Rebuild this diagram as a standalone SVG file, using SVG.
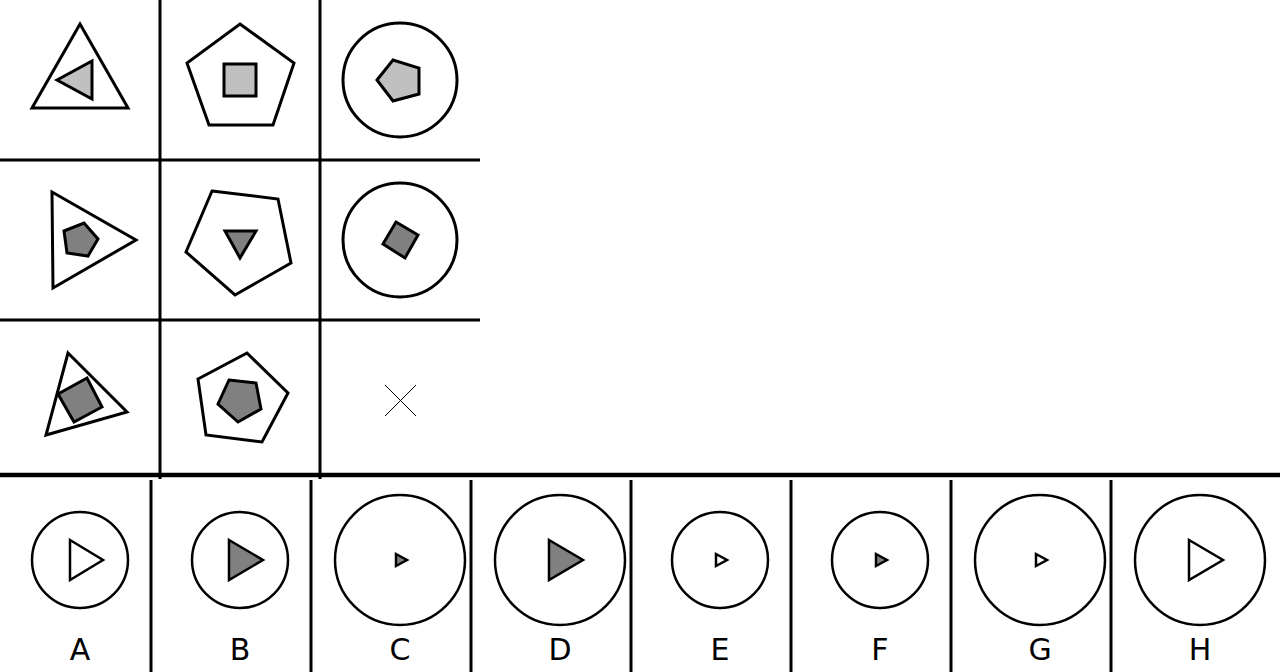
<svg xmlns="http://www.w3.org/2000/svg" width="1280" height="672" viewBox="0 0 1280 672">
<style>
.o{fill:#fff;stroke:#000;stroke-width:3;stroke-linejoin:miter}
.l{fill:#c0c0c0;stroke:#000;stroke-width:3}
.d{fill:#808080;stroke:#000;stroke-width:3}
.oc{fill:#fff;stroke:#000;stroke-width:2.5}
.ow{fill:#fff;stroke:#000;stroke-width:2.5}
.og{fill:#808080;stroke:#000;stroke-width:2.5}
.grid{stroke:#000;fill:none}
.lab{font-family:"DejaVu Sans",sans-serif;font-size:30px;text-anchor:middle;fill:#000}
</style>
<rect width="1280" height="672" fill="#fff"/>
<g id="grid-lines" class="grid">
<line x1="160" y1="0" x2="160" y2="479" stroke-width="3"/>
<line x1="320" y1="0" x2="320" y2="479" stroke-width="3"/>
<line x1="0" y1="160" x2="480" y2="160" stroke-width="3"/>
<line x1="0" y1="320" x2="480" y2="320" stroke-width="3"/>
<line x1="0" y1="475" x2="1280" y2="475" stroke-width="4.5"/>
<line x1="151" y1="480" x2="151" y2="672" stroke-width="3"/>
<line x1="311" y1="480" x2="311" y2="672" stroke-width="3"/>
<line x1="471" y1="480" x2="471" y2="672" stroke-width="3"/>
<line x1="631" y1="480" x2="631" y2="672" stroke-width="3"/>
<line x1="791" y1="480" x2="791" y2="672" stroke-width="3"/>
<line x1="951" y1="480" x2="951" y2="672" stroke-width="3"/>
<line x1="1111" y1="480" x2="1111" y2="672" stroke-width="3"/>
</g>
<g id="cell-1-1">
<polygon class="o" points="80,24 128,108 32,108"/>
<polygon class="l" points="57,80 92,61 92,99"/>
</g>
<g id="cell-1-2">
<polygon class="o" points="240,24 294,63 273,125 209,125 187,63"/>
<rect class="l" x="224" y="64" width="32" height="32"/>
</g>
<g id="cell-1-3">
<circle class="o" cx="400" cy="80" r="57"/>
<polygon class="l" points="377,80 393,60 419,68 419,94 393,101"/>
</g>
<g id="cell-2-1">
<polygon class="o" points="52,192 136,240 53,288"/>
<polygon class="d" points="64,231 84,223 98,239 88,256 67,253"/>
</g>
<g id="cell-2-2">
<polygon class="o" points="212,191 278,199 291,263 235,295 186,252"/>
<polygon class="d" points="225,231 256,231 240,258"/>
</g>
<g id="cell-2-3">
<circle class="o" cx="400" cy="240" r="57"/>
<polygon class="d" points="383,244 396,222 418,235 405,258"/>
</g>
<g id="cell-3-1">
<polygon class="o" points="68,353 127,412 46,435"/>
<polygon class="d" points="58,394 87,378 102,407 74,422"/>
</g>
<g id="cell-3-2">
<polygon class="o" points="247,353 288,393 262,442 206,435 198,379"/>
<polygon class="d" points="229,380 256,383 261,409 238,422 218,404"/>
</g>
<g id="cell-3-3">
<line x1="385" y1="385" x2="416" y2="416" stroke="#000" stroke-width="1"/>
<line x1="416" y1="385" x2="385" y2="416" stroke="#000" stroke-width="1"/>
</g>
<g id="option-A">
<circle class="oc" cx="80" cy="560" r="48"/>
<polygon class="ow" points="70,540 103,560 70,580"/>
<text class="lab" x="80" y="660">A</text>
</g>
<g id="option-B">
<circle class="oc" cx="240" cy="560" r="48"/>
<polygon class="og" points="229,540 263,560 229,580"/>
<text class="lab" x="240" y="660">B</text>
</g>
<g id="option-C">
<circle class="oc" cx="400" cy="560" r="65"/>
<polygon class="og" points="396,554 407,560 396,566"/>
<text class="lab" x="400" y="660">C</text>
</g>
<g id="option-D">
<circle class="oc" cx="560" cy="560" r="65"/>
<polygon class="og" points="549,540 583,560 549,580"/>
<text class="lab" x="560" y="660">D</text>
</g>
<g id="option-E">
<circle class="oc" cx="720" cy="560" r="48"/>
<polygon class="ow" points="716,554 727,560 716,566"/>
<text class="lab" x="720" y="660">E</text>
</g>
<g id="option-F">
<circle class="oc" cx="880" cy="560" r="48"/>
<polygon class="og" points="876,554 887,560 876,566"/>
<text class="lab" x="880" y="660">F</text>
</g>
<g id="option-G">
<circle class="oc" cx="1040" cy="560" r="65"/>
<polygon class="ow" points="1036,554 1047,560 1036,566"/>
<text class="lab" x="1040" y="660">G</text>
</g>
<g id="option-H">
<circle class="oc" cx="1200" cy="560" r="65"/>
<polygon class="ow" points="1189,540 1223,560 1189,580"/>
<text class="lab" x="1200" y="660">H</text>
</g>
</svg>
